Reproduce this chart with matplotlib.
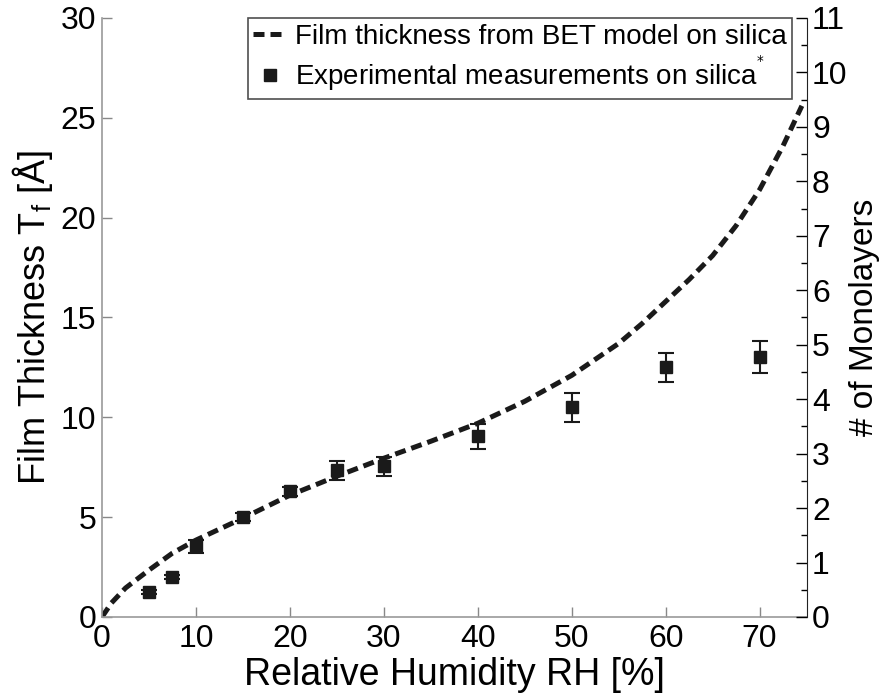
import numpy as np
import matplotlib
matplotlib.use("Agg")
import matplotlib.pyplot as plt
from matplotlib.ticker import MultipleLocator

plt.rcParams['font.family'] = ['Liberation Sans', 'DejaVu Sans']

# BET model curve (film thickness in Angstrom vs RH %)
bet_rh = [0, 1, 2.5, 5, 7.5, 10, 15, 20, 25, 30, 35, 40, 45, 50, 55, 57.5, 60, 62.5, 65, 67.5, 70, 72.5, 74.5]
bet_tf = [0, 0.7, 1.45, 2.35, 3.2, 3.85, 4.95, 6.1, 7.05, 7.95, 8.8, 9.7, 10.8, 12.1, 13.7, 14.7, 15.8, 16.9, 18.1, 19.6, 21.4, 23.6, 25.6]

# measured film thickness on silica
exp_rh = [5, 7.5, 10, 15, 20, 25, 30, 40, 50, 60, 70]
exp_tf = [1.25, 2.0, 3.55, 5.0, 6.3, 7.35, 7.55, 9.05, 10.5, 12.5, 13.0]
exp_err = [0.12, 0.12, 0.33, 0.2, 0.22, 0.48, 0.48, 0.62, 0.72, 0.73, 0.8]

fig = plt.figure(figsize=(8.84, 6.97), dpi=100)
ax = fig.add_axes([0.1154, 0.1148, 0.797, 0.8594])

ink = '#1a1a1a'
ax.plot(bet_rh, bet_tf, color=ink, lw=3.6, ls=(0, (2.2, 1.2)),
        label='Film thickness from BET model on silica')
ax.errorbar(exp_rh, exp_tf, yerr=exp_err, fmt='none', ecolor=ink,
            capsize=6, elinewidth=1.5, capthick=1.5)
ax.plot(exp_rh, exp_tf, 's', color=ink, ms=9,
        label='Experimental measurements on silica$^{^{*}}$')

ax.set_xlim(0, 75)
ax.set_ylim(0, 30)
ax.xaxis.set_major_locator(MultipleLocator(10))
ax.yaxis.set_major_locator(MultipleLocator(5))
ax.tick_params(direction='in', length=7, width=1, color='#888888', labelsize=23)
ax.tick_params(axis='x', pad=5)
ax.tick_params(axis='y', pad=4)
ax.spines['top'].set_visible(False)
ax.spines['right'].set_visible(False)
for s in ('left', 'bottom'):
    ax.spines[s].set_color('#999999')
    ax.spines[s].set_linewidth(1.2)

ax.set_xlabel('Relative Humidity RH [%]', fontsize=27, labelpad=2)
ax.set_ylabel('Film Thickness T$_\\mathregular{f}$ [Å]', fontsize=26, labelpad=4)

# monolayer scale on the right
ax2 = ax.twinx()
ax2.set_ylim(0, 11)
ax2.yaxis.set_major_locator(MultipleLocator(1))
ax2.yaxis.set_minor_locator(MultipleLocator(0.5))
ax2.tick_params(which='major', direction='in', length=8, width=1, labelsize=23, pad=4)
ax2.tick_params(which='minor', direction='in', length=4, width=1)
for s in ('top', 'left', 'bottom'):
    ax2.spines[s].set_visible(False)
ax2.spines['right'].set_color('#222222')
ax2.set_ylabel('# of Monolayers', fontsize=24, labelpad=1)

leg = ax.legend(loc='upper right', bbox_to_anchor=(0.98, 1.0), fontsize=20,
                frameon=True, fancybox=False, edgecolor='#222222',
                handlelength=1.2, handletextpad=0.3, borderpad=0.2,
                labelspacing=0.15, borderaxespad=0)
leg.get_frame().set_linewidth(1.2)

fig.savefig('out.png', dpi=100)
